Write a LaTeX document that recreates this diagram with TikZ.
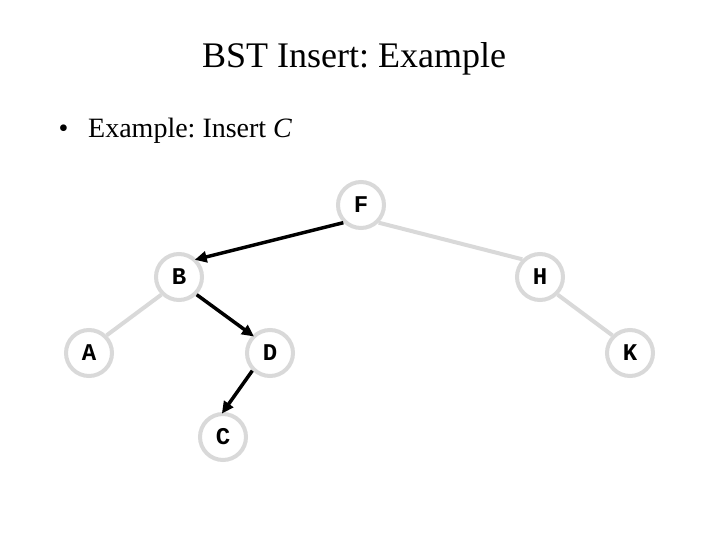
\documentclass[tikz,border=0pt]{standalone}
\usepackage{fontspec}
\setmainfont{Liberation Serif}
\newfontfamily\monob{Liberation Mono}
\usetikzlibrary{arrows.meta}
\definecolor{edgegray}{RGB}{217,217,217}
\frenchspacing
\tikzset{
  treenode/.style={circle, draw=edgegray, line width=4pt, fill=white, minimum size=46pt, inner sep=0pt,
    font=\monob\bfseries\fontsize{24}{24}\selectfont},
  grayedge/.style={draw=edgegray, line width=4pt},
  pathedge/.style={draw=black, line width=3.5pt, -{Triangle[length=12pt,width=11pt]}, shorten >=-2pt},
}
\begin{document}
\begin{tikzpicture}[x=1pt,y=-1pt]
\useasboundingbox (0,0) rectangle (720,540);
\node[anchor=base, font=\fontsize{36}{36}\selectfont] (title) at (354,68) {BST Insert: Example};
\node[anchor=base west, font=\fontsize{28}{28}\selectfont] (bul) at (55,138) {\textbullet};
\node[anchor=base west, inner sep=0pt, font=\fontsize{28}{28}\selectfont] (item) at (88,138) {Example: Insert \textit{C}};
\coordinate (pF) at (361,205);
\coordinate (pB) at (179,277);
\coordinate (pH) at (540,277);
\coordinate (pA) at (89,353);
\coordinate (pD) at (270,353);
\coordinate (pK) at (630,353);
\coordinate (pC) at (223,437);
\node[treenode] (F) at (pF) {F};
\node[treenode] (B) at (pB) {B};
\node[treenode] (H) at (pH) {H};
\node[treenode] (A) at (pA) {A};
\node[treenode] (D) at (pD) {D};
\node[treenode] (K) at (pK) {K};
\node[treenode] (C) at (pC) {C};
\draw[grayedge] (F.south east) -- (H.north west);
\draw[grayedge] (H.south east) -- (K.north west);
\draw[grayedge] (B.south west) -- (A.north east);
\draw[pathedge] (F.south west) -- (B.north east);
\draw[pathedge] (B.south east) -- (D.north west);
\draw[pathedge] (D.south west) -- (C.north);
\end{tikzpicture}
\end{document}
